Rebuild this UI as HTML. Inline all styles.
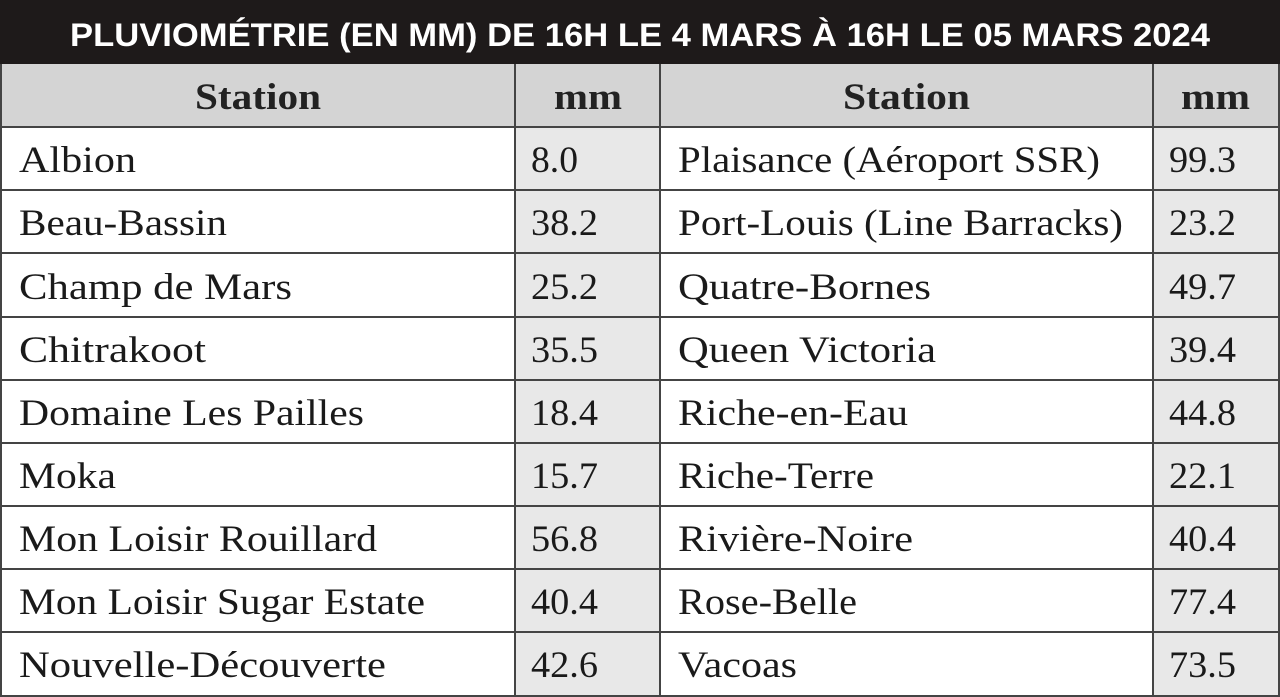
<!DOCTYPE html><html><head><meta charset="utf-8"><style>body{margin:0;background:#fff}svg{display:block}</style></head><body>
<svg width="1280" height="697" xmlns="http://www.w3.org/2000/svg">
<rect x="0" y="0" width="1280" height="64" fill="#1e1a1a"/>
<text x="70" y="46" font-family="Liberation Sans, sans-serif" font-weight="bold" font-size="32" fill="#fff" textLength="1140" lengthAdjust="spacingAndGlyphs">PLUVIOMÉTRIE (EN MM)  DE 16H LE 4 MARS À 16H LE 05 MARS 2024</text>
<rect x="0" y="64" width="1280" height="63" fill="#d4d4d4"/>
<rect x="515" y="127" width="145" height="570" fill="#e8e8e8"/>
<rect x="1153" y="127" width="127" height="570" fill="#e8e8e8"/>
<g stroke="#444" stroke-width="2">
<line x1="0" y1="127" x2="1280" y2="127"/>
<line x1="0" y1="190" x2="1280" y2="190"/><line x1="0" y1="253" x2="1280" y2="253"/>
<line x1="0" y1="317" x2="1280" y2="317"/><line x1="0" y1="380" x2="1280" y2="380"/>
<line x1="0" y1="443" x2="1280" y2="443"/><line x1="0" y1="506" x2="1280" y2="506"/>
<line x1="0" y1="569" x2="1280" y2="569"/><line x1="0" y1="632" x2="1280" y2="632"/>
<line x1="0" y1="696" x2="1280" y2="696"/>
<line x1="515" y1="64" x2="515" y2="697"/><line x1="660" y1="64" x2="660" y2="697"/>
<line x1="1153" y1="64" x2="1153" y2="697"/><line x1="1" y1="64" x2="1" y2="697"/><line x1="1279" y1="64" x2="1279" y2="697"/>
</g>
<g font-family="Liberation Serif, serif" font-weight="bold" font-size="37" fill="#222">
<text lengthAdjust="spacingAndGlyphs" x="195" y="109" textLength="126">Station</text><text lengthAdjust="spacingAndGlyphs" x="554" y="109" textLength="68">mm</text><text lengthAdjust="spacingAndGlyphs" x="843" y="109" textLength="127">Station</text><text lengthAdjust="spacingAndGlyphs" x="1181" y="109" textLength="69">mm</text>
</g>
<g font-family="Liberation Serif, serif" font-size="37" fill="#1a1a1a">
<text lengthAdjust="spacingAndGlyphs" x="19" y="172" textLength="117">Albion</text><text lengthAdjust="spacingAndGlyphs" x="19" y="235" textLength="208">Beau-Bassin</text><text lengthAdjust="spacingAndGlyphs" x="19" y="299" textLength="273">Champ de Mars</text><text lengthAdjust="spacingAndGlyphs" x="19" y="362" textLength="187">Chitrakoot</text><text lengthAdjust="spacingAndGlyphs" x="19" y="425" textLength="345">Domaine Les Pailles</text><text lengthAdjust="spacingAndGlyphs" x="19" y="488" textLength="97">Moka</text><text lengthAdjust="spacingAndGlyphs" x="19" y="551" textLength="358">Mon Loisir Rouillard</text><text lengthAdjust="spacingAndGlyphs" x="19" y="614" textLength="406">Mon Loisir Sugar Estate</text><text lengthAdjust="spacingAndGlyphs" x="19" y="677" textLength="367">Nouvelle-Découverte</text>
<text lengthAdjust="spacingAndGlyphs" x="531" y="172" textLength="47">8.0</text><text lengthAdjust="spacingAndGlyphs" x="531" y="235" textLength="67">38.2</text><text lengthAdjust="spacingAndGlyphs" x="531" y="299" textLength="67">25.2</text><text lengthAdjust="spacingAndGlyphs" x="531" y="362" textLength="67">35.5</text><text lengthAdjust="spacingAndGlyphs" x="531" y="425" textLength="67">18.4</text><text lengthAdjust="spacingAndGlyphs" x="531" y="488" textLength="67">15.7</text><text lengthAdjust="spacingAndGlyphs" x="531" y="551" textLength="67">56.8</text><text lengthAdjust="spacingAndGlyphs" x="531" y="614" textLength="67">40.4</text><text lengthAdjust="spacingAndGlyphs" x="531" y="677" textLength="67">42.6</text>
<text lengthAdjust="spacingAndGlyphs" x="678" y="172" textLength="422">Plaisance (Aéroport SSR)</text><text lengthAdjust="spacingAndGlyphs" x="678" y="235" textLength="445">Port-Louis (Line Barracks)</text><text lengthAdjust="spacingAndGlyphs" x="678" y="299" textLength="253">Quatre-Bornes</text><text lengthAdjust="spacingAndGlyphs" x="678" y="362" textLength="258">Queen Victoria</text><text lengthAdjust="spacingAndGlyphs" x="678" y="425" textLength="230">Riche-en-Eau</text><text lengthAdjust="spacingAndGlyphs" x="678" y="488" textLength="196">Riche-Terre</text><text lengthAdjust="spacingAndGlyphs" x="678" y="551" textLength="235">Rivière-Noire</text><text lengthAdjust="spacingAndGlyphs" x="678" y="614" textLength="179">Rose-Belle</text><text lengthAdjust="spacingAndGlyphs" x="678" y="677" textLength="119">Vacoas</text>
<text lengthAdjust="spacingAndGlyphs" x="1169" y="172" textLength="67">99.3</text><text lengthAdjust="spacingAndGlyphs" x="1169" y="235" textLength="67">23.2</text><text lengthAdjust="spacingAndGlyphs" x="1169" y="299" textLength="67">49.7</text><text lengthAdjust="spacingAndGlyphs" x="1169" y="362" textLength="67">39.4</text><text lengthAdjust="spacingAndGlyphs" x="1169" y="425" textLength="67">44.8</text><text lengthAdjust="spacingAndGlyphs" x="1169" y="488" textLength="67">22.1</text><text lengthAdjust="spacingAndGlyphs" x="1169" y="551" textLength="67">40.4</text><text lengthAdjust="spacingAndGlyphs" x="1169" y="614" textLength="67">77.4</text><text lengthAdjust="spacingAndGlyphs" x="1169" y="677" textLength="67">73.5</text>
</g>
</svg></body></html>
